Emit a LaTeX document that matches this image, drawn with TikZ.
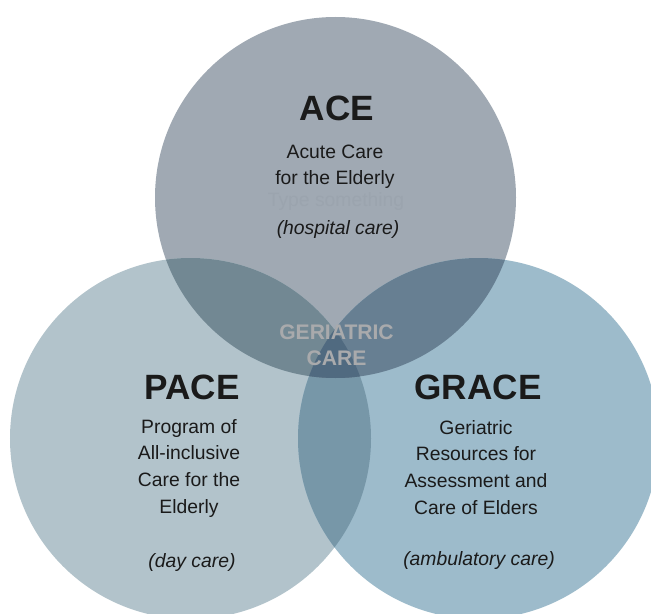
\documentclass[tikz,border=0pt]{standalone}
\usepackage{fontspec}
\setmainfont{Liberation Sans}
\usepackage{xcolor}
\usepackage{tikz}
\definecolor{ACEFill}{HTML}{A0A9B3}
\definecolor{PACEFill}{HTML}{B2C3CB}
\definecolor{GRACEFill}{HTML}{9DBBCB}
\definecolor{ACEPACE}{HTML}{728893}
\definecolor{ACEGRACE}{HTML}{677F92}
\definecolor{PACEGRACE}{HTML}{7797A8}
\definecolor{AllCare}{HTML}{506A80}
\definecolor{InkDark}{HTML}{1A1A1A}
\definecolor{CoreGray}{HTML}{A9AAAC}
\definecolor{GhostText}{HTML}{9BA4AE}

\tikzset{
  title/.style={anchor=base,inner sep=0pt,text=InkDark,font=\fontsize{20}{24}\selectfont\bfseries},
  desc/.style={anchor=base,inner sep=0pt,align=center,text=InkDark,font=\fontsize{11}{15.1}\selectfont},
  kind/.style={anchor=base,inner sep=0pt,text=InkDark,font=\fontsize{11}{15.1}\selectfont\itshape},
  core/.style={anchor=base,inner sep=0pt,align=center,text=CoreGray,font=\fontsize{12}{14.7}\selectfont\bfseries}
}
\newcommand{\rad}{3.61}

\begin{document}
\begin{tikzpicture}[x=1cm,y=1cm]
\clip (0,0) rectangle (13.02,12.26);
\fill[white] (0,0) rectangle (13.02,12.26);
\coordinate (acec) at (6.71,8.31);
\coordinate (pacec) at (3.81,3.49);
\coordinate (gracec) at (9.57,3.49);
% the three circles
\fill[ACEFill] (acec) circle (\rad);
\fill[PACEFill] (pacec) circle (\rad);
\fill[GRACEFill] (gracec) circle (\rad);
% overlaps
\begin{scope}
  \clip (pacec) circle (\rad);
  \fill[PACEGRACE] (gracec) circle (\rad);
\end{scope}
\begin{scope}
  \clip (acec) circle (\rad);
  \fill[ACEPACE] (pacec) circle (\rad);
  \fill[ACEGRACE] (gracec) circle (\rad);
  \clip (pacec) circle (\rad);
  \fill[AllCare] (gracec) circle (\rad);
\end{scope}
% ACE (base of a wrapped node = its last line)
\node[title] (acet) at (6.74,9.84) {ACE};
\node[desc] (aced) at (6.70,8.56) {Acute Care\\for the Elderly};
\node[desc,text=GhostText] (acegh) at (6.72,8.12) {Type something};
\node[kind] (acek) at (6.76,7.56) {(hospital care)};
% PACE
\node[title] (pacet) at (3.84,4.28) {PACE};
\node[desc] (paced) at (3.78,2.00) {Program of\\All-inclusive\\Care for the\\Elderly};
\node[kind] (pacek) at (3.84,0.92) {(day care)};
% GRACE
\node[title] (gracet) at (9.56,4.28) {GRACE};
\node[desc] (graced) at (9.52,1.98) {Geriatric\\Resources for\\Assessment and\\Care of Elders};
\node[kind] (gracek) at (9.58,0.96) {(ambulatory care)};
% centre
\node[core] (core) at (6.73,4.96) {GERIATRIC\\CARE};
\end{tikzpicture}
\end{document}
